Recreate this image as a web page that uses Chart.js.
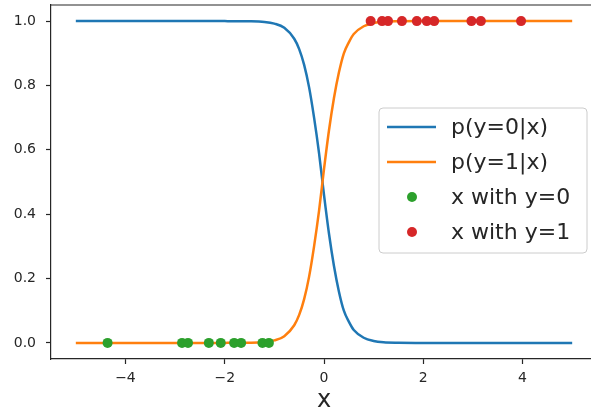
<!DOCTYPE html>
<html>
<head>
<meta charset="utf-8">
<script src="https://cdn.jsdelivr.net/npm/chart.js@4/dist/chart.umd.min.js"></script>
<style>
  html, body { margin: 0; padding: 0; background: #fff; overflow: hidden; width: 591px; height: 415px; }
  #logitChart { display: block; width: 605px; height: 415px; }
</style>
</head>
<body>
<canvas id="logitChart" width="605" height="415"></canvas>
<script>
// Curve samples
const curveX = [-5, -3, -2, -1.5, -1.2, -1, -0.8, -0.6, -0.5, -0.4, -0.3, -0.2, -0.1, 0,
  0.1, 0.2, 0.3, 0.4, 0.5, 0.6, 0.8, 1, 1.2, 1.5, 2, 3, 5];
const pY0 = [1, 1, 0.9999, 0.9994, 0.9973, 0.992, 0.979, 0.945, 0.913, 0.864, 0.794, 0.70, 0.59, 0.46,
  0.34, 0.24, 0.16, 0.10, 0.066, 0.04, 0.016, 0.006, 0.002, 0.0005, 0, 0, 0];
const pY1 = [0, 0, 0.0001, 0.0006, 0.0027, 0.008, 0.021, 0.055, 0.087, 0.136, 0.206, 0.30, 0.41, 0.54,
  0.66, 0.76, 0.84, 0.90, 0.934, 0.96, 0.984, 0.994, 0.998, 0.9995, 1, 1, 1];

// Sample points of each class
const xClass0 = [-4.36, -2.86, -2.74, -2.32, -2.08, -1.81, -1.67, -1.24, -1.11];
const xClass1 = [0.94, 1.17, 1.29, 1.57, 1.87, 2.07, 2.22, 2.97, 3.16, 3.97];

const xTicks = [-4, -2, 0, 2, 4];
const yTicks = [0, 0.2, 0.4, 0.6, 0.8, 1.0];
const seriesLabels = ['p(y=0|x)', 'p(y=1|x)', 'x with y=0', 'x with y=1'];

const colors = ['#1f77b4', '#ff7f0e', '#2ca02c', '#d62728'];
const axisColor = '#262626';

// Top spine like matplotlib; the right one lies outside the picture
const boxPlugin = {
  id: 'box',
  afterDraw(chart) {
    const { ctx, chartArea: a } = chart;
    ctx.save();
    // keep the strip right of the legend clean
    ctx.fillStyle = '#fff';
    ctx.fillRect(588, a.top + 1, chart.width - 588, a.bottom - a.top - 2);
    ctx.strokeStyle = axisColor;
    ctx.lineWidth = 1.2;
    ctx.beginPath();
    ctx.moveTo(a.left, a.top);
    ctx.lineTo(chart.width, a.top);
    ctx.stroke();
    ctx.restore();
  }
};

// Legend drawn inside the axes
const innerLegend = {
  id: 'innerLegend',
  afterDraw(chart, args, opts) {
    const { ctx } = chart;
    const b = opts.box;
    ctx.save();
    ctx.beginPath();
    ctx.roundRect(b.x, b.y, b.w, b.h, 4);
    ctx.fillStyle = 'rgba(255,255,255,0.8)';
    ctx.fill();
    ctx.strokeStyle = '#cccccc';
    ctx.lineWidth = 1;
    ctx.stroke();

    ctx.font = opts.font;
    ctx.textBaseline = 'middle';
    chart.data.datasets.forEach((ds, i) => {
      const y = b.y + opts.firstRow + i * opts.rowGap;
      if (ds.showLine) {
        ctx.strokeStyle = ds.borderColor;
        ctx.lineWidth = 2.5;
        ctx.beginPath();
        ctx.moveTo(b.x + 8, y);
        ctx.lineTo(b.x + 57, y);
        ctx.stroke();
      } else {
        ctx.fillStyle = ds.backgroundColor;
        ctx.beginPath();
        ctx.arc(b.x + 33, y, 5, 0, Math.PI * 2);
        ctx.fill();
      }
      ctx.fillStyle = axisColor;
      ctx.fillText(ds.label, b.x + 72, y + 1);
    });
    ctx.restore();
  }
};

function curve(values) {
  return curveX.map((x, i) => ({ x: x, y: values[i] }));
}

function onAxis(xs) {
  return xs.map(x => ({ x: x, y: 0 }));
}

function onTop(xs) {
  return xs.map(x => ({ x: x, y: 1 }));
}

// Pin the axes size and drop the label overflow padding Chart.js adds
function pinScale(size) {
  return scale => {
    if (scale.isHorizontal()) scale.height = size;
    else scale.width = size;
    scale.paddingTop = 0;
    scale.paddingBottom = 0;
    scale.paddingLeft = 0;
    scale.paddingRight = 0;
  };
}

const ctx = document.getElementById('logitChart').getContext('2d');
new Chart(ctx, {
  type: 'scatter',
  data: {
    datasets: [
      {
        label: seriesLabels[0],
        data: curve(pY0),
        showLine: true,
        borderColor: colors[0],
        backgroundColor: colors[0],
        borderWidth: 2.5,
        pointRadius: 0,
        cubicInterpolationMode: 'monotone',
        order: 4
      },
      {
        label: seriesLabels[1],
        data: curve(pY1),
        showLine: true,
        borderColor: colors[1],
        backgroundColor: colors[1],
        borderWidth: 2.5,
        pointRadius: 0,
        cubicInterpolationMode: 'monotone',
        order: 3
      },
      {
        label: seriesLabels[2],
        data: onAxis(xClass0),
        showLine: false,
        backgroundColor: colors[2],
        borderColor: colors[2],
        borderWidth: 0,
        pointRadius: 5,
        order: 2
      },
      {
        label: seriesLabels[3],
        data: onTop(xClass1),
        showLine: false,
        backgroundColor: colors[3],
        borderColor: colors[3],
        borderWidth: 0,
        pointRadius: 5,
        order: 1
      }
    ]
  },
  options: {
    responsive: false,
    animation: false,
    layout: { padding: { left: 0, top: 1, right: 8, bottom: 0 } },
    plugins: {
      legend: { display: false },
      tooltip: { enabled: false },
      innerLegend: {
        box: { x: 379, y: 108, w: 208, h: 145 },
        firstRow: 19,
        rowGap: 35,
        font: '22px "DejaVu Sans"'
      }
    },
    scales: {
      x: {
        type: 'linear',
        min: -5.5,
        max: 5.5,
        afterBuildTicks: scale => { scale.ticks = xTicks.map(v => ({ value: v })); },
        afterFit: pinScale(56),
        grid: { drawOnChartArea: false, drawTicks: true, tickLength: 5, tickColor: axisColor, tickWidth: 1.2 },
        border: { display: true, color: axisColor, width: 1.2 },
        ticks: {
          color: axisColor,
          padding: 6,
          maxRotation: 0,
          font: { family: 'DejaVu Sans', size: 14 },
          callback: v => (v < 0 ? '\u2212' + Math.abs(v) : String(v))
        },
        title: {
          display: true,
          text: 'x',
          color: axisColor,
          font: { family: 'DejaVu Sans', size: 24 },
          padding: { top: 0, bottom: 0 }
        }
      },
      y: {
        type: 'linear',
        min: -0.05,
        max: 1.05,
        afterBuildTicks: scale => { scale.ticks = yTicks.map(v => ({ value: v })); },
        afterFit: pinScale(51),
        grid: { drawOnChartArea: false, drawTicks: true, tickLength: 5, tickColor: axisColor, tickWidth: 1.2 },
        border: { display: true, color: axisColor, width: 1.2 },
        ticks: {
          color: axisColor,
          padding: 10,
          font: { family: 'DejaVu Sans', size: 14 },
          callback: v => v.toFixed(1)
        }
      }
    }
  },
  plugins: [boxPlugin, innerLegend]
});
</script>
</body>
</html>
